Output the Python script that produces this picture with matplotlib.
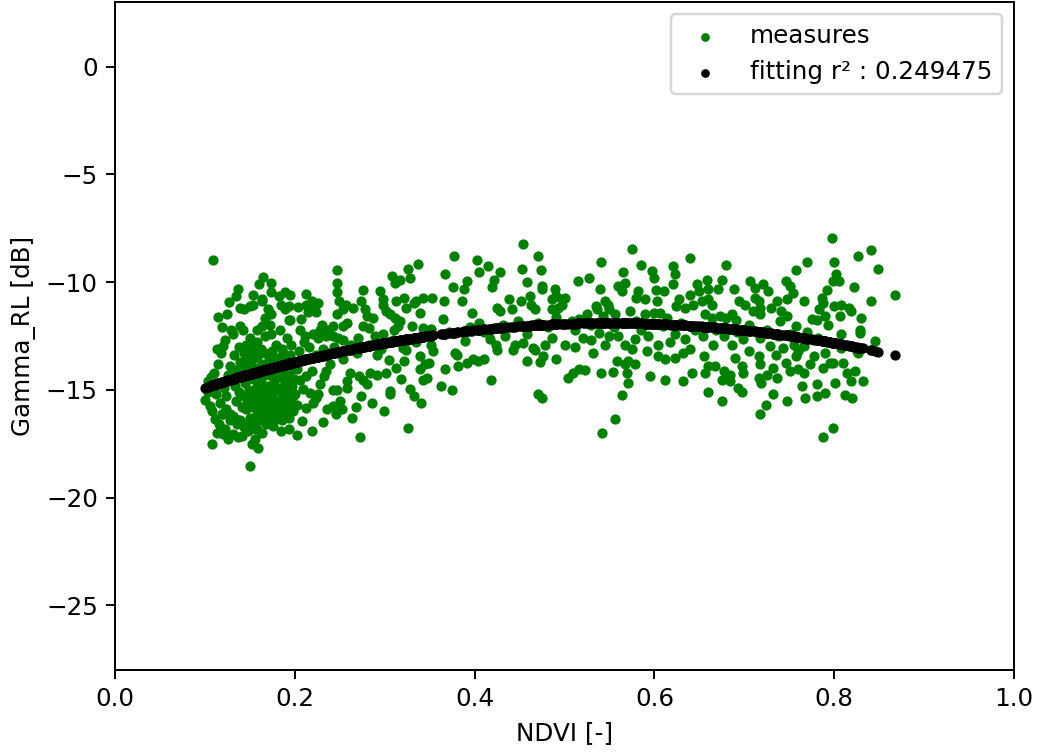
#!/usr/bin/env python3
"""Scatter of Gamma_RL against NDVI with a quadratic fit overlay."""

import matplotlib

matplotlib.use("Agg")
import matplotlib.pyplot as plt
import numpy as np

# (ndvi, gamma_rl [dB]) pairs
MEASURES_010 = [
    (0.100, -15.45), (0.108, -15.99), (0.111, -16.37), (0.108, -17.53), (0.113, -16.99),
    (0.122, -16.83), (0.120, -17.06), (0.109, -8.95), (0.122, -12.67), (0.120, -12.98),
    (0.113, -14.75), (0.106, -15.75), (0.104, -14.6), (0.110, -14.2), (0.115, -13.8),
    (0.118, -13.3), (0.112, -15.2), (0.117, -15.6), (0.119, -16.1), (0.124, -15.9),
    (0.126, -14.3), (0.128, -13.9), (0.125, -11.5), (0.127, -10.9), (0.129, -12.2),
    (0.121, -14.9), (0.116, -16.6), (0.103, -15.1), (0.107, -14.4), (0.114, -13.1),
    (0.123, -15.3), (0.128, -16.4), (0.126, -17.3), (0.119, -12.1), (0.115, -11.6),
    (0.128, -16.14), (0.120, -16.14),
]

MEASURES_013 = [
    (0.131, -17.06), (0.137, -17.17), (0.141, -17.14), (0.150, -18.53), (0.152, -17.53),
    (0.159, -17.68), (0.156, -17.3), (0.185, -16.91), (0.193, -16.83), (0.165, -9.77),
    (0.174, -10.03), (0.160, -10.1), (0.137, -10.3), (0.135, -10.65), (0.154, -10.6),
    (0.163, -10.8), (0.174, -10.47), (0.189, -10.47), (0.195, -10.58), (0.182, -10.65),
    (0.139, -11.2), (0.144, -11.27), (0.150, -11.1), (0.154, -11.04), (0.163, -10.88),
    (0.170, -11.27), (0.174, -11.5), (0.167, -11.66), (0.185, -11.04), (0.189, -11.27),
    (0.193, -11.1), (0.193, -11.77), (0.139, -12.05), (0.142, -12.2), (0.131, -12.4),
    (0.174, -12.4), (0.183, -12.2), (0.191, -12.6), (0.195, -11.77), (0.172, -12.0),
    (0.150, -12.6), (0.158, -12.2), (0.163, -12.05), (0.167, -12.5), (0.158, -12.8),
    (0.150, -13.0), (0.154, -13.2), (0.146, -12.9), (0.162, -13.1), (0.179, -12.9),
    (0.186, -13.1), (0.196, -12.9),
    (0.132, -13.4), (0.134, -14.1), (0.133, -14.8), (0.135, -15.5), (0.131, -16.2),
    (0.136, -16.6), (0.138, -13.0), (0.139, -13.7), (0.140, -14.4), (0.138, -15.1),
    (0.141, -15.8), (0.139, -16.4), (0.143, -13.3), (0.144, -14.0), (0.145, -14.7),
    (0.143, -15.3), (0.146, -15.9), (0.144, -16.7), (0.147, -13.6), (0.148, -14.3),
    (0.149, -15.0), (0.147, -15.6), (0.150, -16.3), (0.148, -16.9), (0.151, -13.2),
    (0.152, -13.9), (0.153, -14.5), (0.151, -15.2), (0.154, -15.8), (0.152, -16.5),
    (0.155, -13.5), (0.156, -14.2), (0.157, -14.9), (0.155, -15.5), (0.158, -16.1),
    (0.156, -16.8), (0.159, -13.4), (0.160, -14.0), (0.161, -14.7), (0.159, -15.3),
    (0.162, -15.9), (0.160, -16.4), (0.163, -13.8), (0.164, -14.4), (0.165, -15.1),
    (0.163, -15.7), (0.166, -16.2), (0.164, -17.0), (0.167, -13.3), (0.168, -14.1),
    (0.169, -14.8), (0.167, -15.4), (0.170, -16.0), (0.168, -16.6), (0.171, -13.6),
    (0.172, -14.3), (0.173, -15.0), (0.171, -15.6), (0.174, -16.3), (0.175, -13.2),
    (0.176, -13.9), (0.177, -14.6), (0.175, -15.3), (0.178, -15.9), (0.176, -16.5),
    (0.179, -13.5), (0.180, -14.2), (0.181, -14.9), (0.179, -15.5), (0.182, -16.1),
    (0.183, -13.7), (0.184, -14.4), (0.185, -15.1), (0.183, -15.8), (0.186, -16.4),
    (0.187, -13.3), (0.188, -14.0), (0.189, -14.7), (0.187, -15.4), (0.190, -16.0),
    (0.191, -13.6), (0.192, -14.3), (0.193, -15.0), (0.191, -15.7), (0.194, -16.3),
    (0.195, -13.4), (0.196, -14.1), (0.197, -14.8), (0.195, -15.5), (0.198, -16.0),
    (0.199, -14.5), (0.169, -16.53), (0.176, -16.68), (0.180, -16.29), (0.172, -16.22),
    (0.161, -16.37), (0.158, -16.83), (0.148, -16.68), (0.141, -16.6), (0.135, -16.37),
    (0.195, -15.9), (0.198, -15.29), (0.191, -15.06), (0.195, -14.6),
]

MEASURES_020 = [
    (0.247, -9.46), (0.337, -9.18), (0.326, -9.4), (0.328, -9.8), (0.308, -9.7),
    (0.317, -9.9), (0.312, -10.05), (0.247, -10.03), (0.247, -10.47), (0.249, -10.88),
    (0.213, -10.53), (0.276, -10.35), (0.274, -10.88), (0.295, -10.43), (0.298, -10.8),
    (0.298, -11.04), (0.313, -10.88), (0.322, -10.72), (0.335, -10.88), (0.343, -10.72),
    (0.204, -11.15), (0.213, -11.04), (0.219, -10.88), (0.226, -10.96), (0.220, -11.27),
    (0.215, -11.4), (0.224, -11.4), (0.207, -11.7), (0.254, -11.27), (0.257, -11.04),
    (0.265, -11.2), (0.247, -11.5), (0.258, -11.9), (0.254, -12.05), (0.278, -11.27),
    (0.280, -11.58), (0.287, -11.66), (0.276, -12.05), (0.282, -12.13), (0.302, -11.35),
    (0.306, -11.5), (0.311, -11.66), (0.317, -11.8), (0.315, -12.05), (0.324, -11.2),
    (0.333, -10.95), (0.339, -11.43), (0.330, -12.05), (0.343, -12.13), (0.230, -12.0),
    (0.228, -12.2), (0.220, -12.4), (0.226, -12.6), (0.235, -12.5), (0.237, -12.2),
    (0.243, -12.05), (0.243, -12.5), (0.248, -12.6), (0.254, -12.7), (0.206, -12.2),
    (0.210, -12.8), (0.211, -12.5), (0.289, -12.5), (0.298, -12.4), (0.309, -12.67),
    (0.320, -13.05), (0.324, -12.75), (0.335, -12.8), (0.343, -12.5),
    (0.202, -17.11), (0.208, -16.45), (0.273, -17.17), (0.326, -16.76), (0.264, -16.29),
    (0.246, -16.14), (0.252, -15.9), (0.243, -15.75), (0.250, -15.52), (0.243, -15.0),
    (0.247, -15.02), (0.274, -15.27), (0.306, -15.06), (0.306, -15.21), (0.328, -14.95),
    (0.333, -15.3), (0.302, -14.24), (0.291, -14.29), (0.284, -14.21), (0.276, -14.52),
    (0.280, -14.75), (0.271, -14.37), (0.258, -14.6), (0.258, -14.91), (0.261, -14.21),
    (0.235, -14.13), (0.232, -14.37), (0.228, -14.75), (0.226, -15.21), (0.219, -14.13),
    (0.339, -14.05), (0.345, -13.82), (0.343, -14.52), (0.339, -13.44), (0.322, -13.67),
    (0.324, -13.13), (0.291, -13.36), (0.269, -13.28), (0.254, -13.59), (0.239, -13.82),
    (0.213, -13.59), (0.202, -15.68), (0.213, -15.83), (0.220, -15.6), (0.224, -15.37),
    (0.217, -15.14), (0.209, -14.98), (0.206, -14.52), (0.213, -14.37), (0.202, -14.05),
    (0.205, -13.2), (0.216, -13.0), (0.224, -13.4), (0.231, -13.1), (0.238, -13.3),
    (0.244, -13.0), (0.262, -12.9), (0.270, -12.6), (0.283, -12.9), (0.296, -13.1),
    (0.305, -13.6), (0.313, -14.0), (0.268, -15.8), (0.286, -15.6), (0.299, -16.0),
    (0.231, -16.5), (0.219, -16.9), (0.236, -15.9), (0.340, -15.6), (0.318, -14.5),
    (0.310, -12.2), (0.200, -15.2),
]

MEASURES_035 = [
    (0.4535, -8.21), (0.377, -8.8), (0.403, -8.95), (0.470, -8.8), (0.575, -8.46),
    (0.541, -9.06), (0.585, -9.21), (0.367, -9.62), (0.415, -9.26), (0.405, -9.54),
    (0.428, -9.54), (0.453, -9.39), (0.474, -9.46), (0.391, -9.97), (0.388, -10.31),
    (0.376, -10.22), (0.422, -9.9), (0.419, -10.22), (0.527, -9.8), (0.515, -9.97),
    (0.565, -9.54), (0.567, -10.03), (0.559, -10.18), (0.564, -10.42), (0.597, -9.49),
    (0.599, -9.8), (0.602, -10.36), (0.582, -10.42), (0.580, -10.73), (0.590, -10.8),
    (0.603, -10.88), (0.540, -10.3), (0.458, -9.99), (0.475, -10.18), (0.475, -10.33),
    (0.489, -10.33), (0.353, -10.73), (0.366, -10.88), (0.386, -10.88), (0.438, -10.8),
    (0.452, -10.88), (0.462, -10.65), (0.463, -11.04), (0.467, -11.27), (0.486, -10.8),
    (0.491, -10.65), (0.497, -10.8), (0.500, -10.72), (0.486, -11.27), (0.493, -11.2),
    (0.497, -11.04), (0.535, -11.1), (0.536, -11.27), (0.545, -10.88), (0.548, -11.04),
    (0.550, -11.27), (0.543, -11.58), (0.397, -11.43), (0.405, -11.88), (0.425, -11.2),
    (0.428, -11.35), (0.442, -11.27), (0.365, -11.7), (0.352, -12.17), (0.525, -11.5),
    (0.516, -11.7), (0.556, -11.5), (0.573, -11.35), (0.589, -11.5), (0.600, -11.43),
    (0.352, -12.9), (0.378, -13.31), (0.389, -12.74), (0.417, -12.66), (0.424, -12.9),
    (0.434, -12.48), (0.445, -12.9), (0.454, -12.82), (0.465, -13.05), (0.478, -12.9),
    (0.486, -12.58), (0.501, -12.9), (0.521, -12.58), (0.538, -12.35), (0.549, -12.48),
    (0.560, -12.51), (0.567, -12.9), (0.578, -12.66), (0.593, -12.51), (0.604, -12.9),
    (0.380, -13.4), (0.349, -13.74), (0.347, -14.44), (0.367, -14.02), (0.382, -13.9),
    (0.391, -13.74), (0.398, -13.59), (0.404, -13.67), (0.411, -13.56), (0.363, -14.83),
    (0.375, -15.01), (0.418, -14.52), (0.458, -13.67), (0.473, -13.71), (0.476, -13.44),
    (0.471, -15.18), (0.475, -15.36), (0.490, -13.59), (0.504, -14.44), (0.510, -14.21),
    (0.516, -14.05), (0.523, -14.09), (0.532, -13.31), (0.541, -14.24), (0.554, -14.17),
    (0.558, -13.67), (0.567, -13.82), (0.571, -13.67), (0.578, -13.82), (0.570, -14.24),
    (0.571, -14.67), (0.564, -15.26), (0.556, -16.35), (0.542, -17.02), (0.595, -14.36),
    (0.604, -13.44), (0.354, -13.2), (0.425, -13.13), (0.443, -13.13), (0.467, -13.13),
    (0.372, -12.3), (0.395, -12.1), (0.410, -12.3), (0.432, -12.0), (0.448, -11.8),
    (0.470, -11.9), (0.482, -12.1), (0.508, -11.8), (0.512, -12.2), (0.530, -12.0),
    (0.555, -12.1), (0.585, -12.2), (0.597, -11.9), (0.458, -12.4), (0.490, -11.6),
    (0.580, -11.8), (0.592, -13.2), (0.545, -12.9), (0.512, -13.0), (0.530, -12.7),
    (0.575, -13.1),
]

MEASURES_061 = [
    (0.798, -7.95), (0.841, -8.53), (0.827, -8.77), (0.640, -8.88), (0.770, -9.06),
    (0.800, -9.06), (0.680, -9.21), (0.849, -9.39), (0.621, -9.26), (0.623, -9.64),
    (0.621, -10.11), (0.758, -9.45), (0.802, -9.6), (0.799, -9.96), (0.805, -9.96),
    (0.658, -9.88), (0.647, -10.11), (0.650, -10.42), (0.660, -10.34), (0.675, -9.88),
    (0.671, -10.31), (0.706, -9.96), (0.721, -10.07), (0.726, -10.42), (0.712, -10.26),
    (0.746, -9.96), (0.751, -10.18), (0.754, -10.5), (0.747, -10.8), (0.792, -10.37),
    (0.822, -10.22), (0.868, -10.62), (0.841, -10.88), (0.611, -10.42), (0.640, -10.58),
    (0.627, -10.8), (0.624, -11.1), (0.634, -11.2), (0.643, -11.04), (0.653, -10.88),
    (0.660, -10.8), (0.664, -11.04), (0.688, -10.34), (0.694, -10.88), (0.701, -11.04),
    (0.712, -10.73), (0.716, -10.88), (0.718, -11.2), (0.710, -11.35), (0.718, -11.5),
    (0.736, -10.88), (0.730, -11.2), (0.741, -11.35), (0.747, -11.58), (0.740, -11.8),
    (0.766, -10.88), (0.786, -10.73), (0.788, -10.96), (0.783, -11.27), (0.790, -11.58),
    (0.793, -11.97), (0.781, -11.74), (0.800, -11.12), (0.808, -11.04), (0.806, -11.58),
    (0.817, -11.2), (0.819, -11.35), (0.830, -11.66), (0.775, -11.7), (0.758, -12.05),
    (0.829, -12.2), (0.829, -12.35), (0.845, -12.74), (0.808, -12.43), (0.606, -11.43),
    (0.614, -11.66), (0.610, -12.05), (0.656, -11.5), (0.664, -11.66), (0.673, -11.58),
    (0.680, -11.66), (0.686, -11.5), (0.691, -11.74), (0.623, -12.43), (0.634, -12.66),
    (0.654, -12.51), (0.665, -12.9), (0.677, -12.51), (0.686, -12.9), (0.699, -12.66),
    (0.718, -12.58), (0.729, -12.97), (0.743, -13.05), (0.755, -12.9), (0.766, -12.97),
    (0.808, -13.05), (0.825, -13.2),
    (0.612, -13.59), (0.623, -13.51), (0.632, -13.28), (0.612, -14.52), (0.632, -14.6),
    (0.642, -14.24), (0.655, -13.44), (0.660, -13.9), (0.656, -14.24), (0.667, -13.9),
    (0.677, -14.13), (0.684, -14.29), (0.675, -14.52), (0.684, -14.6), (0.660, -15.1),
    (0.675, -15.52), (0.690, -13.51), (0.697, -13.9), (0.699, -14.21), (0.693, -14.91),
    (0.697, -15.1), (0.716, -13.44), (0.718, -13.82), (0.716, -14.44), (0.719, -14.67),
    (0.725, -14.29), (0.732, -13.98), (0.736, -14.44), (0.732, -15.18), (0.724, -15.68),
    (0.718, -16.1), (0.746, -13.74), (0.751, -14.13), (0.760, -14.05), (0.766, -14.21),
    (0.764, -14.83), (0.768, -15.36), (0.758, -13.44), (0.747, -15.52), (0.777, -13.44),
    (0.773, -13.82), (0.787, -13.98), (0.795, -13.74), (0.799, -13.74), (0.810, -13.74),
    (0.781, -14.75), (0.781, -15.29), (0.790, -15.14), (0.801, -14.67), (0.814, -14.21),
    (0.819, -14.6), (0.823, -14.13), (0.832, -14.6), (0.812, -15.26), (0.820, -15.36),
    (0.799, -16.79), (0.788, -17.19), (0.827, -13.28),
    (0.630, -11.9), (0.645, -12.2), (0.668, -12.2), (0.692, -12.3), (0.705, -12.0),
    (0.725, -12.2), (0.738, -12.5), (0.752, -12.4), (0.770, -12.3), (0.782, -12.6),
    (0.795, -12.8), (0.617, -12.8), (0.640, -13.1), (0.705, -13.2), (0.735, -13.4),
    (0.760, -13.2), (0.790, -13.3),
]

# quadratic fit (np.polyval order)
FIT_COEFFS = [-14.8, 16.28, -16.377]
FIT_LABEL = "fitting r² : 0.249475"

XLIM = (0.0, 1.0)
YLIM = (-28.0, 3.0)
XTICKS = [0.0, 0.2, 0.4, 0.6, 0.8, 1.0]
YTICKS = [0, -5, -10, -15, -20, -25]

DPI = 177


def main() -> None:
    pairs = MEASURES_010 + MEASURES_013 + MEASURES_020 + MEASURES_035 + MEASURES_061
    ndvi = np.array([p[0] for p in pairs])
    gamma = np.array([p[1] for p in pairs])
    gamma_fit = np.polyval(FIT_COEFFS, ndvi)

    fig = plt.figure(figsize=(1039 / DPI, 752 / DPI), dpi=DPI)
    ax = fig.add_axes([115 / 1039, 1 - 670 / 752, 899 / 1039, 668 / 752])

    ax.scatter(ndvi, gamma, s=10, c="green", label="measures")
    ax.scatter(ndvi, gamma_fit, s=10, c="black", label=FIT_LABEL)

    ax.set_xlim(*XLIM)
    ax.set_ylim(*YLIM)
    ax.set_xticks(XTICKS)
    ax.set_yticks(YTICKS)
    ax.set_xlabel("NDVI [-]")
    ax.set_ylabel("Gamma_RL [dB]")
    ax.legend(loc="upper right", markerscale=0.8)

    fig.savefig("out.png", dpi=DPI)


if __name__ == "__main__":
    main()
